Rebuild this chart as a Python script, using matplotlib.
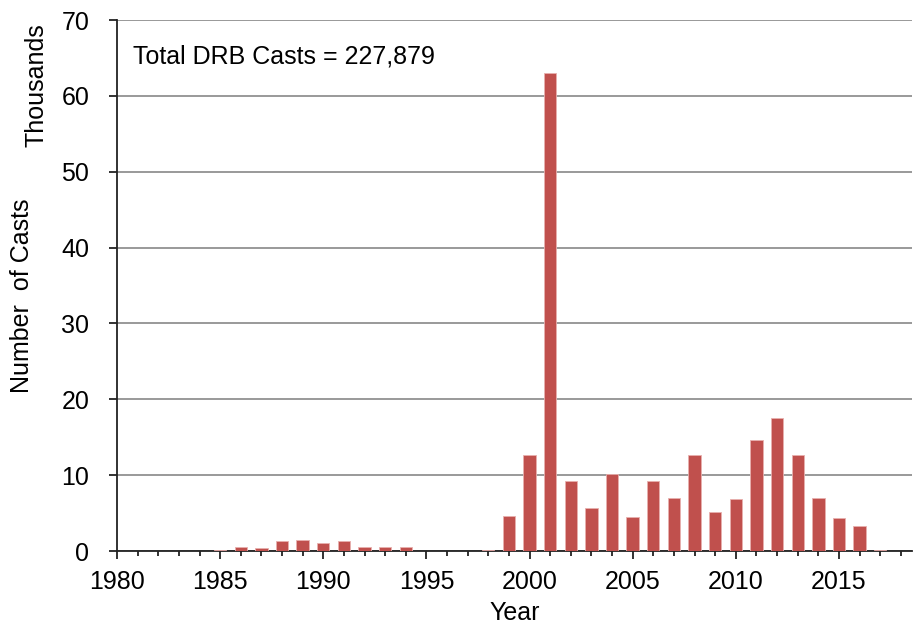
import numpy as np
import matplotlib.pyplot as plt
from matplotlib.ticker import MultipleLocator

plt.rcParams['font.family'] = ['Liberation Sans', 'DejaVu Sans']

# DRB casts per year, thousands
years = list(range(1980, 2018))
casts = [0, 0, 0, 0, 0, 0.1, 0.5, 0.35, 1.3, 1.5,
         1.1, 1.3, 0.5, 0.5, 0.5, 0, 0, 0, 0.1, 4.6,
         12.6, 63.0, 9.2, 5.7, 10.2, 4.5, 9.2, 7.0, 12.7, 5.1,
         6.85, 14.6, 17.6, 12.6, 7.0, 4.3, 3.3, 0.1]
total_label = "Total DRB Casts = 227,879"

fig = plt.figure(figsize=(9.14, 6.29), dpi=100)
ax = fig.add_axes([0.128, 0.124, 0.870, 0.844])

ax.bar(years, casts, width=0.6, color='#C0504D', edgecolor='#E8B0AE', linewidth=0.6, zorder=3)

ax.set_xlim(1980, 2018.55)
ax.set_ylim(0, 70)
ax.xaxis.set_major_locator(MultipleLocator(5))
ax.xaxis.set_minor_locator(MultipleLocator(1))
ax.yaxis.set_major_locator(MultipleLocator(10))
ax.grid(axis='y', color='#999999', linewidth=1.4, zorder=0)
ax.set_axisbelow(True)

for s in ['top', 'right']:
    ax.spines[s].set_visible(False)
for s in ['left', 'bottom']:
    ax.spines[s].set_linewidth(1.3)
    ax.spines[s].set_color('#222222')

ax.tick_params(axis='both', which='major', labelsize=18, length=6, width=1.3, color='#222222')
ax.tick_params(axis='x', which='major', pad=8)
ax.tick_params(axis='y', which='major', pad=14)
ax.tick_params(axis='x', which='minor', length=3.5, width=1.3, color='#222222')

ax.set_xlabel('Year', fontsize=18, labelpad=5)
fig.text(0.024, 0.53, 'Number  of Casts', rotation=90, fontsize=18, ha='center', va='center')
fig.text(0.040, 0.865, 'Thousands', rotation=90, fontsize=18, ha='center', va='center')

ax.text(0.02, 0.932, total_label, transform=ax.transAxes, fontsize=18, ha='left', va='center')

plt.savefig('out.png', dpi=100)
